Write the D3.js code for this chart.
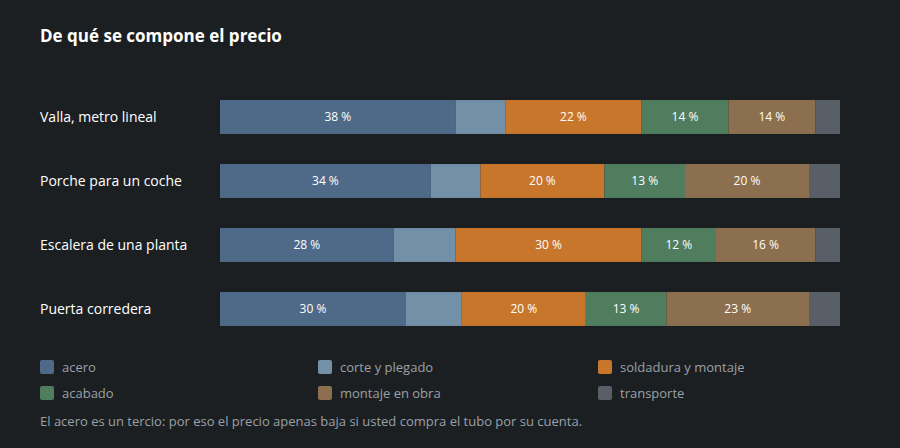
<!DOCTYPE html>
<html><head><meta charset="utf-8">
<script src="https://cdn.jsdelivr.net/npm/d3@7/dist/d3.min.js"></script>
<style>body{margin:0;background:#1c1f22;}svg{font-family:"Open Sans",sans-serif;}</style>
</head><body><svg id="c" width="900" height="448"></svg>
<script>
const categories=["Valla, metro lineal","Porche para un coche","Escalera de una planta","Puerta corredera"];
const seriesNames=["acero","corte y plegado","soldadura y montaje","acabado","montaje en obra","transporte"];
const acero=[38,34,28,30];
const corte=[8,8,10,9];
const soldadura=[22,20,30,20];
const acabado=[14,13,12,13];
const montaje=[14,20,16,23];
const transporte=[4,5,4,5];
const colors=["#4e6a88","#7290a8","#c8762c","#4f7d5e","#8b6f4e","#585f66"];
const values=[acero,corte,soldadura,acabado,montaje,transporte];

const svg=d3.select("#c");
svg.append("rect").attr("width",900).attr("height",448).attr("fill","#1c1f22");
svg.append("text").attr("x",40).attr("y",42).attr("fill","#fff").attr("font-size",17).attr("font-weight","bold").text("De qué se compone el precio");
const x=d3.scaleLinear().domain([0,100]).range([220,840]);
const y=d3.scaleBand().domain(categories).range([85,341]).paddingInner(0.47).paddingOuter(0.235);
const rows=categories.map((c,i)=>{let s=0;return values.map((v,k)=>{const o={c,k,v:v[i],x0:s};s+=v[i];return o;});});
rows.forEach(r=>{
  const g=svg.append("g");
  g.selectAll("rect").data(r).join("rect").attr("x",d=>x(d.x0)).attr("width",d=>x(d.x0+d.v)-x(d.x0))
   .attr("y",d=>y(d.c)).attr("height",y.bandwidth()).attr("fill",d=>colors[d.k]);
  g.selectAll("text").data(r.filter(d=>d.v>=12)).join("text").attr("x",d=>x(d.x0+d.v/2)).attr("y",d=>y(d.c)+y.bandwidth()/2+4)
   .attr("text-anchor","middle").attr("fill","#fff").attr("font-size",12).text(d=>d.v+" %");
});
svg.selectAll(".cat").data(categories).join("text").attr("x",40).attr("y",d=>y(d)+y.bandwidth()/2+5)
  .attr("fill","#fff").attr("font-size",14).text(d=>d);
const lg=svg.selectAll(".lg").data(seriesNames).join("g").attr("transform",(d,i)=>`translate(${[40,318,598][i%3]},${i<3?360:386})`);
lg.append("rect").attr("width",14).attr("height",14).attr("rx",2).attr("fill",(d,i)=>colors[i]);
lg.append("text").attr("x",22).attr("y",12).attr("fill","#9aa0a6").attr("font-size",13).text(d=>d);
svg.append("text").attr("x",40).attr("y",426).attr("fill","#9aa0a6").attr("font-size",13).text("El acero es un tercio: por eso el precio apenas baja si usted compra el tubo por su cuenta.");
</script></body></html>
